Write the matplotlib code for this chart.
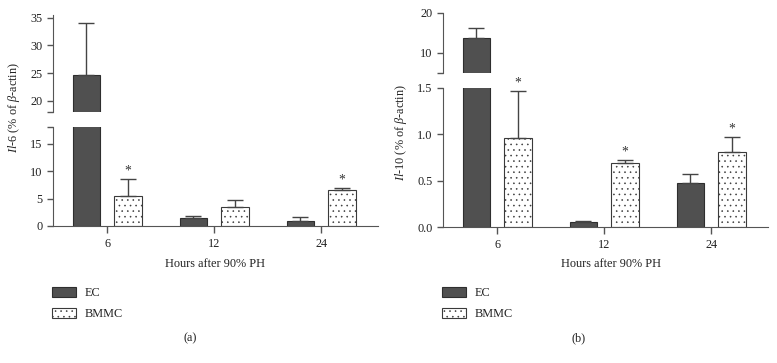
import numpy as np
import matplotlib
matplotlib.use('Agg')
import matplotlib.pyplot as plt
from matplotlib.patches import Patch

plt.rcParams['font.family'] = 'Liberation Serif'
plt.rcParams['mathtext.fontset'] = 'custom'
plt.rcParams['mathtext.rm'] = 'Liberation Serif'
plt.rcParams['mathtext.it'] = 'Liberation Serif:italic'
plt.rcParams['hatch.linewidth'] = 0.4
plt.rcParams['hatch.color'] = '#777777'

# data
hours = ['6', '12', '24']

il6_ec = [24.7, 1.4, 1.0]
il6_ec_err = [9.3, 0.4, 0.6]
il6_bmmc = [5.4, 3.5, 6.6]
il6_bmmc_err = [3.1, 1.3, 0.3]
il6_star_bmmc = [True, False, True]

il10_ec = [13.6, 0.05, 0.47]
il10_ec_err = [2.6, 0.015, 0.10]
il10_bmmc = [0.96, 0.69, 0.81]
il10_bmmc_err = [0.51, 0.03, 0.16]
il10_star_bmmc = [True, True, True]

W, H = 777, 363
fig = plt.figure(figsize=(W / 100, H / 100), dpi=100)

def box(x0, x1, y0, y1):
    # pixel box (top-down y) -> figure fraction rect
    return [x0 / W, 1 - y1 / H, (x1 - x0) / W, (y1 - y0) / H]

EC_COL = '#505050'
EDGE = '#2e2e2e'
AX_COL = '#555555'
FS = 8.8
off = 0.195
width = 0.255
DOTS = '...'


def draw(ax_top, ax_bot, ec, ec_err, bmmc, bmmc_err, stars):
    x = np.arange(len(hours))
    z = np.zeros(len(hours))
    for ax in (ax_top, ax_bot):
        ax.bar(x - off, ec, width, color=EC_COL, edgecolor=EDGE, linewidth=0.8,
               yerr=[z, ec_err], capsize=6,
               error_kw=dict(ecolor='#444444', elinewidth=1, capthick=1))
        ax.bar(x + off, bmmc, width, color='white', edgecolor='#3a3a3a',
               linewidth=0.8, hatch=DOTS, yerr=[z, bmmc_err], capsize=6,
               error_kw=dict(ecolor='#444444', elinewidth=1, capthick=1))
        ax.set_xlim(-0.505, 2.53)
        for s in ('top', 'right'):
            ax.spines[s].set_visible(False)
        ax.spines['left'].set_color(AX_COL)
        ax.spines['bottom'].set_color(AX_COL)
        ax.tick_params(colors=AX_COL, labelcolor='#222222', labelsize=FS,
                       direction='out', length=4, width=1)
        ax.patch.set_alpha(0)
    ax_top.spines['bottom'].set_visible(False)
    ax_top.set_xticks([])
    ax_bot.set_xticks(x)
    ax_bot.set_xticklabels(hours)
    ax_bot.tick_params(axis='x', length=5)
    for i, st in enumerate(stars):
        if st:
            ax_bot.annotate('*', (x[i] + off, bmmc[i] + bmmc_err[i]),
                            xytext=(0, 1), textcoords='offset points',
                            ha='center', va='bottom', fontsize=FS + 1,
                            color='#333333', annotation_clip=False)


# panel (a)
a_top = fig.add_axes(box(53, 378, 15, 112))
a_bot = fig.add_axes(box(53, 378, 127, 226))
draw(a_top, a_bot, il6_ec, il6_ec_err, il6_bmmc, il6_bmmc_err, il6_star_bmmc)
a_top.set_ylim(18, 35.5)
a_top.set_yticks([18, 20, 25, 30, 35])
a_top.set_yticklabels(['', '20', '25', '30', '35'])
a_bot.set_ylim(0, 18)
a_bot.set_yticks([0, 5, 10, 15, 18])
a_bot.set_yticklabels(['0', '5', '10', '15', ''])

# panel (b)
b_top = fig.add_axes(box(443, 768, 12.7, 72.7))
b_bot = fig.add_axes(box(443, 768, 88, 227))
draw(b_top, b_bot, il10_ec, il10_ec_err, il10_bmmc, il10_bmmc_err, il10_star_bmmc)
b_top.set_ylim(5, 20)
b_top.set_yticks([5, 10, 20])
b_top.set_yticklabels(['', '10', '20'])
b_bot.set_ylim(0, 1.5)
b_bot.set_yticks([0, 0.5, 1.0, 1.5])
b_bot.set_yticklabels(['0.0', '0.5', '1.0', '1.5'])

# labels
fig.text(14 / W, 1 - 108 / H, r'$\mathit{Il}$-$\mathit{6}$ (% of $\mathit{\beta}$-actin)',
         rotation=90, ha='center', va='center', fontsize=FS, color='#222222')
fig.text(401 / W, 1 - 132 / H, r'$\mathit{Il}$-$\mathit{10}$ (% of $\mathit{\beta}$-actin)',
         rotation=90, ha='center', va='center', fontsize=FS, color='#222222')
for cx in (215, 611):
    fig.text(cx / W, 1 - 264 / H, 'Hours after 90% PH', ha='center', va='center',
             fontsize=FS, color='#222222')
fig.text(190 / W, 1 - 338 / H, '(a)', ha='center', va='center', fontsize=FS, color='#222222')
fig.text(579 / W, 1 - 338 / H, '(b)', ha='center', va='center', fontsize=FS, color='#222222')

handles = [Patch(facecolor=EC_COL, edgecolor=EDGE, linewidth=0.8),
           Patch(facecolor='white', edgecolor='#3a3a3a', linewidth=0.8, hatch=DOTS)]
for lx in (47, 437):
    fig.legend(handles, ['EC', 'BMMC'], loc='upper left',
               bbox_to_anchor=(lx / W, 1 - 282 / H), frameon=False,
               fontsize=FS, handlelength=2.0, handleheight=0.95,
               handletextpad=0.7, labelspacing=0.7, borderaxespad=0,
               labelcolor='#222222')

fig.savefig('out.png', dpi=100)
